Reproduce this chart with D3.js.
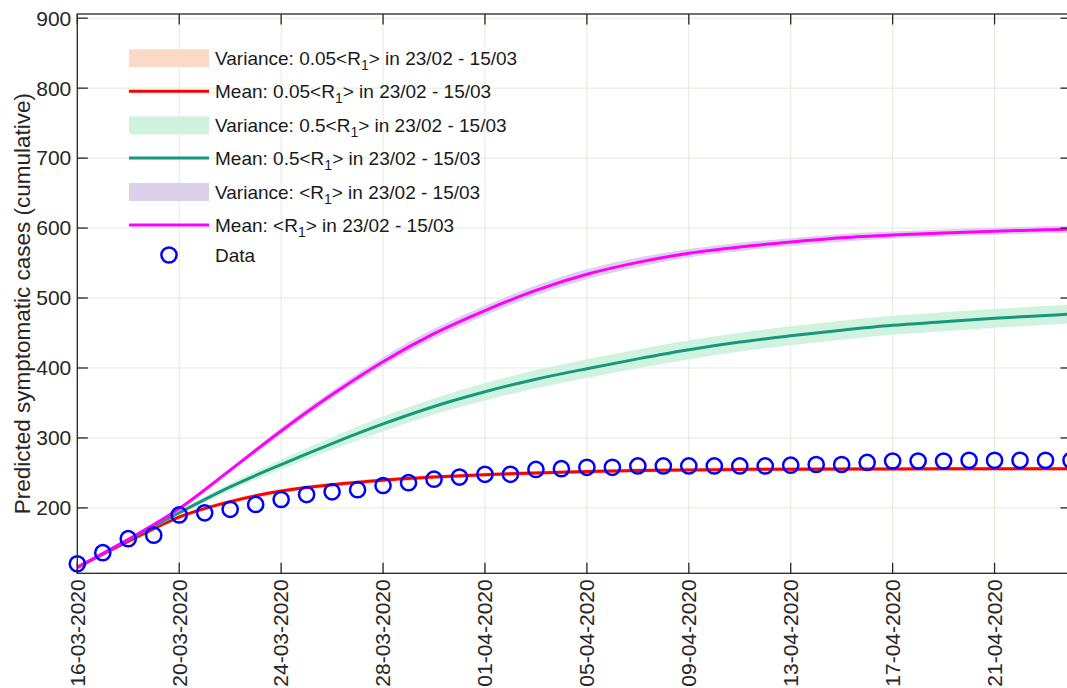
<!DOCTYPE html>
<html>
<head>
<meta charset="utf-8">
<script src="https://cdn.jsdelivr.net/npm/d3@7"></script>
<style>
  html, body { margin: 0; padding: 0; background: #ffffff; }
  svg { display: block; font-family: "Liberation Sans", Arial, Helvetica, sans-serif; }
</style>
</head>
<body>
<svg id="chart" width="1067" height="688"></svg>
<script>
// ---- data ---------------------------------------------------------------
const startDate = new Date(Date.UTC(2020, 2, 16));   // 16-03-2020
const endDate   = new Date(Date.UTC(2020, 3, 24));   // 24-04-2020

// observed cumulative symptomatic cases, one per day from 16-03
const observed = [120, 136, 156, 161, 190, 193, 198, 205, 212, 219,
                  223, 226, 232, 236, 241, 244, 248, 248, 255, 256,
                  258, 258, 260, 260, 260, 260, 260, 260, 261, 262,
                  262, 265, 267, 267, 267, 268, 268, 268, 268, 268];

// model sample days (offset from 16-03)
const modelDays = [0, 2, 4, 6, 8, 10, 12, 14, 16, 18, 20, 22, 24, 26, 28, 30, 32, 34, 36, 38, 39];

// 0.05<R1>
const meanLow  = [115, 152, 187, 209, 224, 233, 239.5, 244, 247.5, 250, 252, 253.5, 254.3, 255, 255.3, 255.5, 255.7, 255.8, 255.9, 256, 256];
const bandLowMin = [115, 151, 185, 206, 221, 230, 236.5, 241, 244.5, 247, 249, 250.5, 251.3, 252, 252.3, 252.5, 252.7, 252.8, 252.9, 253, 253];
const bandLowMax = [115, 153, 189, 212, 227, 236, 242.5, 247, 250.5, 253, 255, 256.5, 257.3, 258, 258.3, 258.5, 258.7, 258.8, 258.9, 259, 259];

// 0.5<R1>
const meanMid  = [115, 154, 193, 230, 262, 292, 320, 345, 366, 384, 399, 413, 426, 437, 446, 454, 461, 466, 471, 475, 477];
const bandMidMin = [115, 153, 190, 225, 255, 283, 309.5, 333.5, 353.5, 371, 385.5, 399.5, 412.5, 423.5, 432.5, 440.5, 447.5, 452.5, 457.5, 461.5, 463.5];
const bandMidMax = [115, 155, 196, 235, 269, 301, 330.5, 356.5, 378.5, 397, 412.5, 426.5, 439.5, 450.5, 459.5, 467.5, 474.5, 479.5, 484.5, 488.5, 490.5];

// <R1>
const meanFull = [115, 155, 199, 254, 310, 362, 409, 449, 482, 511, 534, 551, 564, 573, 580, 586, 590, 593, 595.5, 597.5, 598.5];
const bandFullMin = [115, 154, 197, 251, 305.5, 356.5, 402.5, 442, 475, 504, 527, 544.5, 558, 567, 574.5, 580.5, 585, 588, 590.5, 592.5, 593.5];
const bandFullMax = [115, 156, 201, 257, 314.5, 367.5, 415.5, 456, 489, 518, 541, 557.5, 570, 579, 585.5, 591.5, 595, 598, 600.5, 602.5, 603.5];

const yTicks = [200, 300, 400, 500, 600, 700, 800, 900];

const legendLabels = [
  { kind: "band", color: "#fbd9c7", pre: "Variance: 0.05<R", post: "> in 23/02 - 15/03" },
  { kind: "line", color: "#ff0000", pre: "Mean: 0.05<R",     post: "> in 23/02 - 15/03" },
  { kind: "band", color: "#d0f3e0", pre: "Variance: 0.5<R",  post: "> in 23/02 - 15/03" },
  { kind: "line", color: "#16987b", pre: "Mean: 0.5<R",      post: "> in 23/02 - 15/03" },
  { kind: "band", color: "#dcd1ea", pre: "Variance: <R",     post: "> in 23/02 - 15/03" },
  { kind: "line", color: "#ff00ff", pre: "Mean: <R",         post: "> in 23/02 - 15/03" },
  { kind: "dot",  color: "#0000ff", text: "Data" }
];

// ---- layout -------------------------------------------------------------
const svg = d3.select("#chart");
const plotL = 77.3, plotR = 1071, plotT = 14, plotB = 573.3;
const axisColor = "#262626";
const gridColor = "#e3eadf";

const x = d3.scaleUtc().domain([startDate, endDate]).range([plotL, plotR]);
const y = d3.scaleLinear().domain([106.5, 906]).range([plotB, plotT]);

const xTicks = d3.utcDay.range(startDate, d3.utcDay.offset(endDate, 1))
  .filter(d => Math.round((d - startDate) / 864e5) % 4 === 0);
const fmt = d3.utcFormat("%d-%m-%Y");

svg.append("rect").attr("width", 1067).attr("height", 688).attr("fill", "#fff");

svg.append("defs").append("clipPath").attr("id", "plotClip")
  .append("rect").attr("x", plotL).attr("y", plotT)
  .attr("width", plotR - plotL).attr("height", plotB - plotT);

// grid
const grid = svg.append("g").attr("stroke", gridColor).attr("stroke-width", 1);
grid.selectAll("line.v").data(xTicks).join("line")
  .attr("x1", d => x(d)).attr("x2", d => x(d)).attr("y1", plotT).attr("y2", plotB);
grid.selectAll("line.h").data(yTicks).join("line")
  .attr("x1", plotL).attr("x2", plotR).attr("y1", d => y(d)).attr("y2", d => y(d));

// model series
const dayDate = d => d3.utcDay.offset(startDate, d);
const series = [
  { mean: meanLow,  lo: bandLowMin,  hi: bandLowMax,  band: "#fbd9c7", line: "#ff0000" },
  { mean: meanMid,  lo: bandMidMin,  hi: bandMidMax,  band: "#d0f3e0", line: "#16987b" },
  { mean: meanFull, lo: bandFullMin, hi: bandFullMax, band: "#dcd1ea", line: "#ff00ff" }
];

const plot = svg.append("g").attr("clip-path", "url(#plotClip)");
const area = d3.area()
  .x((d, i) => x(dayDate(modelDays[i])))
  .y0(d => y(d[0])).y1(d => y(d[1]))
  .curve(d3.curveMonotoneX);
const line = d3.line()
  .x((d, i) => x(dayDate(modelDays[i])))
  .y(d => y(d))
  .curve(d3.curveMonotoneX);

series.forEach(s => {
  plot.append("path")
    .datum(s.lo.map((v, i) => [v, s.hi[i]]))
    .attr("d", area).attr("fill", s.band).attr("stroke", "none");
  plot.append("path")
    .datum(s.mean)
    .attr("d", line).attr("fill", "none")
    .attr("stroke", s.line).attr("stroke-width", 3).attr("stroke-linejoin", "round");
});

// observed points
svg.append("g").selectAll("circle").data(observed).join("circle")
  .attr("cx", (d, i) => x(dayDate(i)))
  .attr("cy", d => y(d))
  .attr("r", 7.6)
  .attr("fill", "none").attr("stroke", "#0000ff").attr("stroke-width", 2.5);

// axes box with inward ticks on every side
const axes = svg.append("g").attr("stroke", axisColor).attr("stroke-width", 1.3).attr("fill", "none");
axes.append("rect").attr("x", plotL).attr("y", plotT).attr("width", plotR - plotL).attr("height", plotB - plotT);
const tl = 10.5;
xTicks.forEach(d => {
  axes.append("line").attr("x1", x(d)).attr("x2", x(d)).attr("y1", plotB).attr("y2", plotB - tl);
  axes.append("line").attr("x1", x(d)).attr("x2", x(d)).attr("y1", plotT).attr("y2", plotT + tl);
});
yTicks.forEach(v => {
  axes.append("line").attr("x1", plotL).attr("x2", plotL + tl).attr("y1", y(v)).attr("y2", y(v));
  axes.append("line").attr("x1", plotR).attr("x2", plotR - tl).attr("y1", y(v)).attr("y2", y(v));
});

// tick labels
const tickFont = 21;
svg.append("g").selectAll("text").data(yTicks).join("text")
  .attr("x", plotL - 6).attr("y", d => y(d)).attr("dy", "0.35em")
  .attr("text-anchor", "end").attr("font-size", tickFont).attr("fill", axisColor)
  .text(d => d);

svg.append("g").selectAll("text").data(xTicks).join("text")
  .attr("transform", d => `translate(${x(d)},${plotB + 6}) rotate(-90)`)
  .attr("dy", "0.35em")
  .attr("text-anchor", "end").attr("font-size", tickFont).attr("fill", axisColor)
  .text(d => fmt(d));

// y-axis title
svg.append("text")
  .attr("transform", `translate(30,${(plotT + plotB) / 2 + 10}) rotate(-90)`)
  .attr("text-anchor", "middle").attr("font-size", 22.5).attr("fill", axisColor)
  .text("Predicted symptomatic cases (cumulative)");

// legend
const lg = svg.append("g");
const rowY = [58.3, 91.2, 125.5, 158, 192, 225, 255];
const swX0 = 129, swX1 = 209, txtX = 215;
legendLabels.forEach((it, i) => {
  const cy = rowY[i];
  if (it.kind === "band") {
    lg.append("rect").attr("x", swX0).attr("y", cy - 9).attr("width", swX1 - swX0).attr("height", 18)
      .attr("fill", it.color);
  } else if (it.kind === "line") {
    lg.append("line").attr("x1", swX0).attr("x2", swX1).attr("y1", cy).attr("y2", cy)
      .attr("stroke", it.color).attr("stroke-width", 3);
  } else {
    lg.append("circle").attr("cx", (swX0 + swX1) / 2).attr("cy", cy).attr("r", 7.6)
      .attr("fill", "none").attr("stroke", it.color).attr("stroke-width", 2.5);
  }
  const t = lg.append("text").attr("x", txtX).attr("y", cy).attr("dy", "0.35em")
    .attr("font-size", 19).attr("fill", "#1a1a1a");
  if (it.text) {
    t.text(it.text);
  } else {
    t.append("tspan").text(it.pre);
    t.append("tspan").attr("font-size", 14).attr("dy", 5).text("1");
    t.append("tspan").attr("dy", -5).text(it.post);
  }
});
</script>
</body>
</html>
